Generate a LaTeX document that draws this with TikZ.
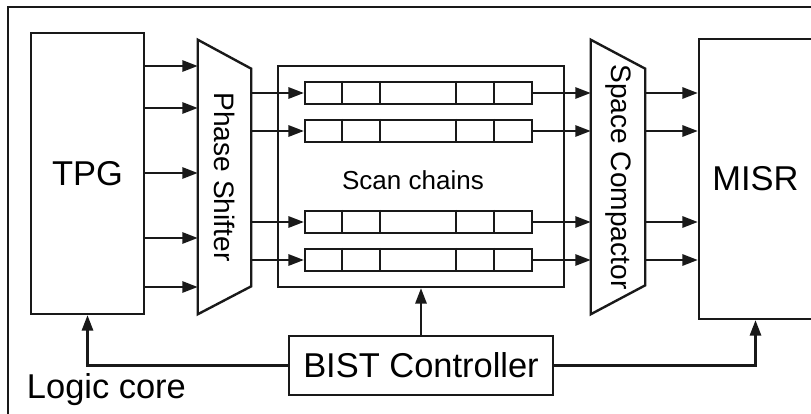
\documentclass[tikz,border=0pt]{standalone}
\usepackage{fontspec}
\setmainfont{Liberation Sans}
\usepackage{tikz}
\usetikzlibrary{calc, arrows.meta, positioning, fit}
\definecolor{lineBlack}{gray}{0.1}

\begin{document}
\begin{tikzpicture}[x=0.025cm, y=-0.025cm, >={Triangle[length=11pt, width=8pt]}]
    \tikzset{
        blk/.style={draw=lineBlack, line width=1.7pt, inner sep=0pt},
        chainbox/.style={draw=lineBlack, line width=1.6pt, inner sep=0pt},
        arr/.style={->, line width=1.6pt, lineBlack},
        bigtxt/.style={font=\fontsize{24.5}{28}\selectfont},
        sidetxt/.style={font=\fontsize{20}{24}\selectfont, rotate=-90},
    }
    \clip (0,0) rectangle (811,414);

    % Logic core frame (runs off the page right and bottom)
    \draw[line width=1.9pt, lineBlack] (8,7) rectangle (840,440);
    \node[bigtxt, anchor=west] (core) at (22,390) {Logic core};

    % TPG and MISR
    \node[blk, fit={(31,33) (144,314)}] (tpg) {};
    \node[bigtxt] (tpglbl) at (tpg.center) {TPG};
    \node[blk, fit={(699,39) (812,319)}] (misr) {};
    \node[bigtxt] (misrlbl) at (misr.center) {MISR};

    % Phase shifter / space compactor outlines
    \node[inner sep=0pt, fit={(198,40) (251,314)}] (ps) {};
    \draw[line width=1.7pt, lineBlack] (ps.north west) -- ($(ps.north east)+(0,29)$)
        -- ($(ps.south east)+(0,-28)$) -- (ps.south west) -- cycle;
    \node[sidetxt] (pslbl) at (ps.center) {Phase Shifter};

    \node[inner sep=0pt, fit={(591,40) (645,314)}] (sc) {};
    \draw[line width=1.7pt, lineBlack] (sc.north west) -- ($(sc.north east)+(0,29)$)
        -- ($(sc.south east)+(0,-29)$) -- (sc.south west) -- cycle;
    \node[sidetxt] (sclbl) at (sc.center) {Space Compactor};

    % Scan chain block
    \node[blk, fit={(278,66) (564,287)}] (scan) {};
    \node[font=\fontsize{18.5}{22}\selectfont] (scanlbl) at (413,180) {Scan chains};

    \foreach \n/\y in {1/93, 2/131, 3/222, 4/260} {
        \node[chainbox, fit={(305,\y-11) (532,\y+11)}] (c\n) {};
        \foreach \d in {38, 76, 152, 190}
            \draw[line width=1.6pt, lineBlack] ($(c\n.north west)+(\d,0)$) -- ($(c\n.south west)+(\d,0)$);
        \draw[arr] (ps.east |- c\n.west) -- (c\n.west);
        \draw[arr] (c\n.east) -- (sc.west |- c\n.east);
        \draw[arr] (sc.east |- c\n.east) -- (misr.west |- c\n.east);
    }

    % TPG outputs into the phase shifter
    \foreach \y in {66, 108, 173, 238, 287}
        \draw[arr] (tpg.east |- 0,\y) -- (ps.west |- 0,\y);

    % BIST controller
    \node[blk, fit={(289,336) (553,395)}] (bist) {};
    \node[bigtxt] (bistlbl) at (bist.center) {BIST Controller};
    \draw[arr] (bist.north) -- (scan.south);
    \draw[arr] (bist.west) -| (tpg.south);
    \draw[arr] (bist.east) -| (misr.south);
\end{tikzpicture}
\end{document}
